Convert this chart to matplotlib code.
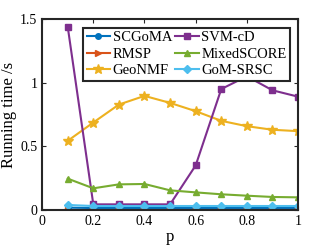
import numpy as np
import matplotlib.pyplot as plt

plt.rcParams['font.family'] = ['Liberation Serif', 'DejaVu Serif']

p = [0.1, 0.2, 0.3, 0.4, 0.5, 0.6, 0.7, 0.8, 0.9, 1.0]
scgoma = [0.018, 0.015, 0.015, 0.015, 0.015, 0.015, 0.015, 0.015, 0.015, 0.015]
rmsp = [0.003, 0.003, 0.003, 0.003, 0.003, 0.003, 0.003, 0.003, 0.003, 0.003]
geonmf = [0.543, 0.687, 0.828, 0.896, 0.841, 0.776, 0.700, 0.658, 0.630, 0.619]
svmcd = [1.44, 0.044, 0.044, 0.044, 0.044, 0.35, 0.95, 1.05, 0.94, 0.89]
mixedscore = [0.246, 0.170, 0.201, 0.204, 0.154, 0.138, 0.123, 0.112, 0.102, 0.099]
gomsrsc = [0.039, 0.031, 0.031, 0.031, 0.031, 0.031, 0.031, 0.031, 0.031, 0.031]

fig = plt.figure(figsize=(3.29, 2.47), dpi=100)
ax = fig.add_axes([0.128, 0.15, 0.778, 0.773])

ms = 4
ax.plot(p, scgoma, '-o', color='#0072BD', lw=1.5, ms=ms, label='SCGoMA')
ax.plot(p, rmsp, '->', color='#D95319', lw=1.5, ms=ms, label='RMSP')
ax.plot(p, geonmf, '-*', color='#EDB120', lw=1.5, ms=ms + 3, label='GeoNMF')
ax.plot(p, svmcd, '-s', color='#7E2F8E', lw=1.5, ms=ms, label='SVM-cD')
ax.plot(p, mixedscore, '-^', color='#77AC30', lw=1.5, ms=ms + 1, label='MixedSCORE')
ax.plot(p, gomsrsc, '-D', color='#4DBEEE', lw=1.5, ms=ms, label='GoM-SRSC')

ax.set_xlim(0, 1)
ax.set_ylim(0, 1.5)
ax.set_xticks([0, 0.2, 0.4, 0.6, 0.8, 1])
ax.set_xticklabels(['0', '0.2', '0.4', '0.6', '0.8', '1'])
ax.set_yticks([0, 0.5, 1, 1.5])
ax.set_yticklabels(['0', '0.5', '1', '1.5'])
ax.tick_params(direction='in', top=True, right=True, labelsize=10, length=3, color='#262626')
for s in ax.spines.values():
    s.set_linewidth(1.5)
    s.set_color('#262626')
ax.set_xlabel('p', fontsize=12, labelpad=1)
ax.set_ylabel('Running time /s', fontsize=12, labelpad=2)

leg = ax.legend(ncol=2, loc='upper right', fontsize=10.5, frameon=True, fancybox=False,
                framealpha=1, edgecolor='#262626', handlelength=1.6, handletextpad=0.2,
                columnspacing=0.2, labelspacing=0.22, borderpad=0.25,
                bbox_to_anchor=(0.97, 0.955), borderaxespad=0)
leg.get_frame().set_linewidth(1.5)
leg.set_zorder(10)

fig.savefig('out.png', dpi=100)
